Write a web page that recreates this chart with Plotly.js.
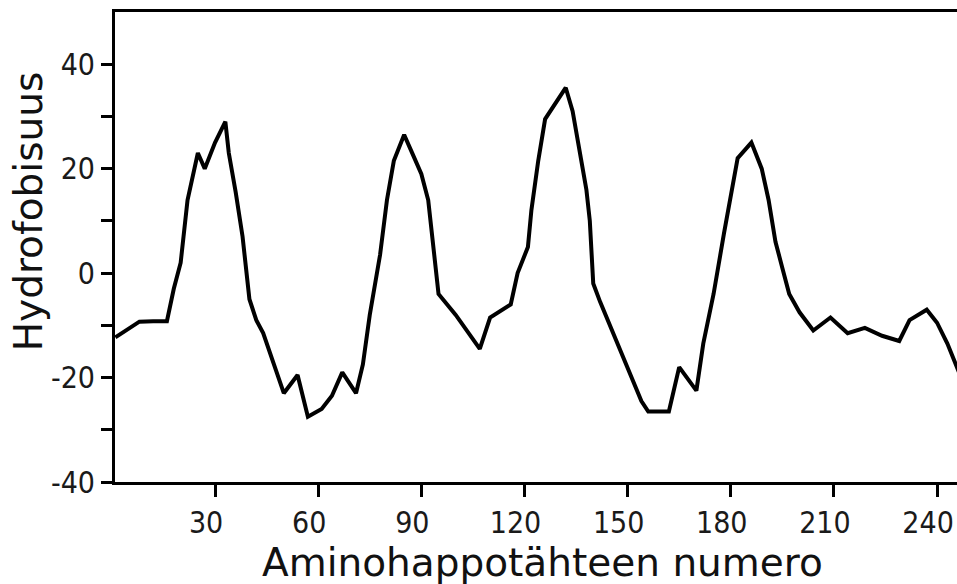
<!DOCTYPE html>
<html>
<head>
<meta charset="utf-8">
<script src="https://cdn.plot.ly/plotly-3.0.1.min.js"></script>
<style>html,body{margin:0;padding:0;background:#fff;}#chart{width:957px;height:584px;}</style>
</head>
<body>
<div id="chart"></div>
<script>
// Residue number (x) and hydrophobicity (y)
const residue = [1, 4, 8, 12, 16, 18, 20, 22, 25, 27, 30, 33, 34, 36, 38, 40, 42, 44, 47, 50, 54, 57, 61, 64, 67, 71, 73, 75, 78, 80, 82, 85, 87, 90, 92, 94, 95, 100, 107, 110, 116, 118, 121, 122, 124, 126, 130, 132, 134, 136, 138, 139, 140, 142, 147, 154, 156, 162, 165, 170, 172, 175, 178, 180, 182, 186, 189, 191, 193, 195, 197, 200, 204, 209, 214, 219, 224, 229, 232, 237, 240, 243, 246, 247];
const hydro = [-12.3, -11, -9.3, -9.2, -9.2, -3, 2, 14, 23, 20, 25, 29, 23, 15.5, 7, -5, -9, -11.5, -17, -23, -19.5, -27.5, -26, -23.5, -19, -23, -17.5, -8, 3.5, 14, 21.5, 26.5, 23.5, 19, 14, 1, -4, -8, -14.5, -8.5, -6, 0, 5, 12, 21.5, 29.5, 33.5, 35.5, 31, 24, 16, 10, -2, -5.5, -13.5, -24.5, -26.5, -26.5, -18, -22.5, -13.5, -4, 7.5, 15, 22, 25, 20, 14, 6, 1, -4, -7.5, -11, -8.5, -11.5, -10.5, -12, -13, -9, -7, -9.5, -13.5, -18.5, -20];
const xTickVals = [30, 60, 90, 120, 150, 180, 210, 240];
const yTickVals = [-40, -30, -20, -10, 0, 10, 20, 30, 40];
const yTickText = ['-40', '', '-20', '', '0', '', '20', '', '40'];
const xTitle = 'Aminohappotähteen numero';
const yTitle = 'Hydrofobisuus';

const tickFont = {family: '"Liberation Sans Narrow", "Arial Narrow", "DejaVu Sans Condensed", sans-serif', size: 30, color: '#1a1a1a'};
const titleFont = {family: '"DejaVu Sans", "Liberation Sans", sans-serif', size: 39, color: '#111'};

const data = [{
  x: residue, y: hydro, type: 'scatter', mode: 'lines',
  line: {color: '#000', width: 4}, hoverinfo: 'x+y'
}];

const layout = {
  width: 957, height: 584,
  margin: {l: 115, r: 0, t: 12, b: 102},
  paper_bgcolor: '#fff', plot_bgcolor: '#fff',
  showlegend: false,
  xaxis: {
    range: [0.9, 245.8], showgrid: false, zeroline: false,
    showline: true, linecolor: '#000', linewidth: 3, mirror: true,
    tickmode: 'array', tickvals: xTickVals, ticktext: xTickVals.map(String),
    ticks: 'outside', ticklen: 12, tickwidth: 3, tickcolor: '#000',
    tickfont: tickFont, ticklabelstandoff: 0, ticklabelshift: -9, ticklabeloverflow: 'allow'
  },
  yaxis: {
    range: [-40, 50], showgrid: false, zeroline: false,
    showline: true, linecolor: '#000', linewidth: 3,
    tickmode: 'array', tickvals: yTickVals, ticktext: yTickText,
    ticks: 'outside', ticklen: 11, tickwidth: 3, tickcolor: '#000',
    tickfont: tickFont, ticklabelstandoff: 0
  },
  annotations: [
    {text: xTitle, xref: 'paper', yref: 'paper', x: 0.5, xshift: 6, y: 0, yshift: -56,
     xanchor: 'center', yanchor: 'top', showarrow: false, font: titleFont},
    {text: yTitle, xref: 'paper', yref: 'paper', x: 0, xshift: -87, y: 0.574,
     xanchor: 'center', yanchor: 'middle', textangle: -90, showarrow: false, font: titleFont}
  ]
};

Plotly.newPlot('chart', data, layout, {displayModeBar: false, staticPlot: true});
</script>
</body>
</html>
